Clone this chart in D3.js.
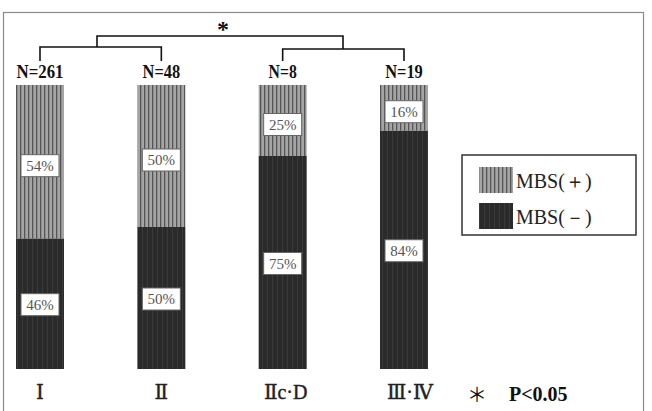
<!DOCTYPE html>
<html>
<head>
<meta charset="utf-8">
<script src="https://cdn.jsdelivr.net/npm/d3@7"></script>
<style>
  body { margin: 0; background: #fff; }
  svg { display: block; }
</style>
</head>
<body>
<svg id="svg" width="652" height="411"></svg>
<script>
// data
const categories = ["Ⅰ", "Ⅱ", "Ⅱc·D", "Ⅲ·Ⅳ"];
const nLabels = ["N=261", "N=48", "N=8", "N=19"];
const mbsPos = [54, 50, 25, 16];
const mbsNeg = [46, 50, 75, 84];
const legendLabels = ["MBS(＋)", "MBS(－)"];

const svg = d3.select("#svg");
const serif = "'Liberation Serif', 'DejaVu Serif', serif";

// stripe patterns
const defs = svg.append("defs");
const pPos = defs.append("pattern").attr("id", "stripePos")
  .attr("patternUnits", "userSpaceOnUse").attr("width", 4).attr("height", 10);
pPos.append("rect").attr("width", 4).attr("height", 10).attr("fill", "#a5a5a5");
pPos.append("rect").attr("x", 0).attr("width", 1.3).attr("height", 10).attr("fill", "#555");
const pNeg = defs.append("pattern").attr("id", "stripeNeg")
  .attr("patternUnits", "userSpaceOnUse").attr("width", 5).attr("height", 10);
pNeg.append("rect").attr("width", 5).attr("height", 10).attr("fill", "#2a2a2a");
pNeg.append("rect").attr("x", 2).attr("width", 1).attr("height", 10).attr("fill", "#3a3a3a");

// frame
svg.append("rect").attr("x", 3.5).attr("y", 12.5).attr("width", 640).attr("height", 405)
  .attr("fill", "none").attr("stroke", "#8a8a8a").attr("stroke-width", 1.2);

const x = d3.scalePoint().domain(categories).range([40, 404]);
const y = d3.scaleLinear().domain([0, 100]).range([369, 85]);
const bw = 48;

const bars = categories.map((c, i) => ({ c, pos: mbsPos[i], neg: mbsNeg[i], n: nLabels[i] }));

const g = svg.append("g");
// lower segment MBS(-)
g.selectAll(".neg").data(bars).enter().append("rect")
  .attr("x", d => x(d.c) - bw / 2).attr("y", d => y(d.neg))
  .attr("width", bw).attr("height", d => y(0) - y(d.neg))
  .attr("fill", "url(#stripeNeg)");
// upper segment MBS(+)
g.selectAll(".pos").data(bars).enter().append("rect")
  .attr("x", d => x(d.c) - bw / 2).attr("y", d => y(100))
  .attr("width", bw).attr("height", d => y(d.neg) - y(100))
  .attr("fill", "url(#stripePos)");

// percent boxes
function pctBox(cx, cy, txt) {
  const b = g.append("g").attr("transform", `translate(${cx},${cy})`);
  b.append("rect").attr("x", -19).attr("y", -11).attr("width", 38).attr("height", 22)
    .attr("fill", "#fff").attr("stroke", "#666").attr("stroke-width", 1);
  b.append("text").attr("text-anchor", "middle").attr("dy", "0.36em")
    .attr("font-family", serif).attr("font-size", 15).attr("fill", "#555").text(txt);
}
bars.forEach(d => {
  pctBox(x(d.c), (y(100) + y(d.neg)) / 2 + 4, d.pos + "%");
  pctBox(x(d.c), (y(d.neg) + y(0)) / 2 + 1, d.neg + "%");
});

// N labels
g.selectAll(".nlab").data(bars).enter().append("text")
  .attr("x", d => x(d.c)).attr("y", 78).attr("text-anchor", "middle")
  .attr("font-family", serif).attr("font-weight", "bold").attr("font-size", 18)
  .attr("textLength", d => d.n.length * 9.4).attr("lengthAdjust", "spacingAndGlyphs")
  .attr("fill", "#111").text(d => d.n);

// significance brackets
const br = svg.append("g").attr("fill", "none").attr("stroke", "#111").attr("stroke-width", 1.6);
const xl = 97;
const xr = 343;
br.append("path").attr("d", `M${x(categories[0])},61V47H${x(categories[1])}V61`);
br.append("path").attr("d", `M${x(categories[2])},61V49H${x(categories[3])}V61`);
br.append("path").attr("d", `M${xl},47V36H${xr}V49`);
svg.append("text").attr("x", 223).attr("y", 37).attr("text-anchor", "middle")
  .attr("font-family", serif).attr("font-weight", "bold").attr("font-size", 24).attr("fill", "#111").text("*");

// category labels
const catDx = [0, 0, 3, 6];
svg.selectAll(".cat").data(categories).enter().append("text")
  .attr("x", (d, i) => x(d) + catDx[i]).attr("y", 399).attr("text-anchor", "middle")
  .attr("font-family", serif).attr("font-size", 20).attr("stroke", "#222").attr("stroke-width", 0.4)
  .attr("fill", "#222").text(d => d);

// footnote
svg.append("text").attr("x", 477).attr("y", 402).attr("text-anchor", "middle")
  .attr("font-family", "'Noto Sans CJK JP', sans-serif").attr("font-size", 20).attr("fill", "#111").text("＊");
svg.append("text").attr("x", 509).attr("y", 401)
  .attr("font-family", serif).attr("font-weight", "bold").attr("font-size", 20).attr("fill", "#111").text("P<0.05");

// legend
const lg = svg.append("g").attr("transform", "translate(462,155)");
lg.append("rect").attr("width", 174).attr("height", 80)
  .attr("fill", "#fff").attr("stroke", "#333").attr("stroke-width", 1.5);
const fills = ["url(#stripePos)", "url(#stripeNeg)"];
legendLabels.forEach((t, i) => {
  lg.append("rect").attr("x", 17).attr("y", 12 + i * 36).attr("width", 34).attr("height", 26)
    .attr("fill", fills[i]);
  lg.append("text").attr("x", 54).attr("y", 33 + i * 36)
    .attr("font-family", serif).attr("font-size", 20).attr("fill", "#222").text(t);
});
</script>
</body>
</html>
